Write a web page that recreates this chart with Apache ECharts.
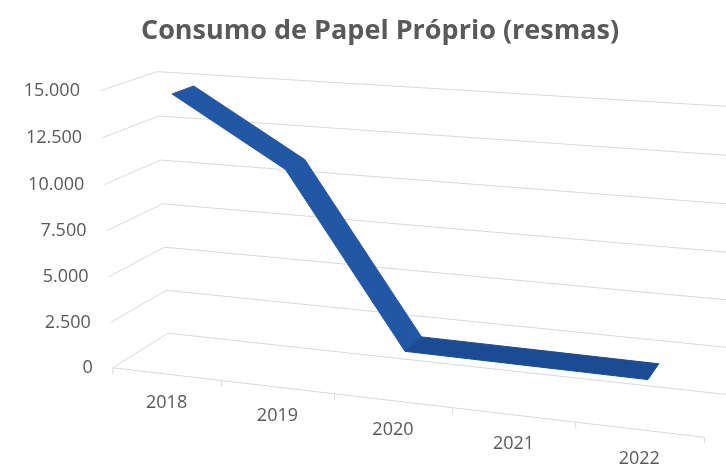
<!DOCTYPE html>
<html>
<head>
<meta charset="utf-8">
<script src="https://cdn.jsdelivr.net/npm/echarts@6/dist/echarts.min.js"></script>
<style>
  html, body { margin: 0; padding: 0; background: #fff; }
  #chart { width: 726px; height: 464px; }
</style>
</head>
<body>
<div id="chart"></div>
<script>
// dados
var categories = ['2018', '2019', '2020', '2021', '2022'];
var consumo = [14700, 11100, 2000, 1950, 1900];
var yTicks = [0, 2500, 5000, 7500, 10000, 12500, 15000];
var titulo = 'Consumo de Papel Próprio (resmas)';

// caixa 3D: X = bandas de categoria (0..5), Y = valor/2500 (0..6), Z = profundidade (0 frente, 1 fundo)
// cantos da caixa no ecrã -> camara em perspectiva (DLT)
var refPts = [
  [0, 0, 0, 113, 368], [0, 6, 0, 100, 91], [0, 0, 1, 168, 333], [0, 6, 1, 157, 71],
  [1, 0, 0, 221, 380], [2, 0, 0, 335, 393], [3, 0, 0, 453, 408], [4, 0, 0, 575, 422],
  [5, 0, 0, 705, 437], [0, 3, 0, 106, 232], [0, 3, 1, 163, 204],
  [5, 0, 1, 728, 396], [5, 6, 1, 729, 107], [5, 3, 1, 728, 251]
];
var Z1 = 0.3, Z2 = 0.7;   // profundidade da fita
var cinza = '#595959', linha = '#d9d9d9';
var fonte = 'Open Sans';

function solveCamera(pts) {
  var n = 11, M = [], r = [], i, j, k, c;
  for (i = 0; i < n; i++) { M.push(new Array(n).fill(0)); r.push(0); }
  pts.forEach(function (p) {
    var X = p[0], Y = p[1], Z = p[2], x = (p[3] - 360) / 300, y = (p[4] - 250) / 300;
    var rows = [[X, Y, Z, 1, 0, 0, 0, 0, -x * X, -x * Y, -x * Z, x],
                [0, 0, 0, 0, X, Y, Z, 1, -y * X, -y * Y, -y * Z, y]];
    rows.forEach(function (a) {
      for (i = 0; i < n; i++) {
        for (j = 0; j < n; j++) M[i][j] += a[i] * a[j];
        r[i] += a[i] * a[n];
      }
    });
  });
  for (c = 0; c < n; c++) {
    var piv = c;
    for (k = c + 1; k < n; k++) if (Math.abs(M[k][c]) > Math.abs(M[piv][c])) piv = k;
    var t = M[c]; M[c] = M[piv]; M[piv] = t;
    t = r[c]; r[c] = r[piv]; r[piv] = t;
    for (k = c + 1; k < n; k++) {
      var f = M[k][c] / M[c][c];
      for (j = c; j < n; j++) M[k][j] -= f * M[c][j];
      r[k] -= f * r[c];
    }
  }
  var m = new Array(n);
  for (c = n - 1; c >= 0; c--) {
    var s = r[c];
    for (j = c + 1; j < n; j++) s -= M[c][j] * m[j];
    m[c] = s / M[c][c];
  }
  return m;
}
var cam = solveCamera(refPts);

function proj(X, Y, Z) {
  var w = cam[8] * X + cam[9] * Y + cam[10] * Z + 1;
  return [(cam[0] * X + cam[1] * Y + cam[2] * Z + cam[3]) / w * 300 + 360,
          (cam[4] * X + cam[5] * Y + cam[6] * Z + cam[7]) / w * 300 + 250];
}

// valor de dados -> coordenadas da caixa, pela escala do eixo
function toBox(api, cat, val) {
  var p = api.coord([cat, val]);
  var o = api.coord([0, 0]);
  var bw = api.size([1, 0])[0];
  var bh = api.size([0, 2500])[1];
  return [(p[0] - o[0]) / bw + 0.5, (o[1] - p[1]) / bh];
}

function fmt(v) { return String(v).replace(/\B(?=(\d{3})+(?!\d))/g, '.'); }

function mix(a, b, t) {
  var ca = echarts.color.parse(a), cb = echarts.color.parse(b);
  return 'rgb(' + [0, 1, 2].map(function (i) { return Math.round(ca[i] + (cb[i] - ca[i]) * t); }).join(',') + ')';
}

var nCat = categories.length;

var chart = echarts.init(document.getElementById('chart'));
chart.setOption({
  animation: false,
  title: {
    text: titulo, left: 375, top: 13, textAlign: 'center',
    textStyle: { fontFamily: fonte, fontWeight: 'bold', fontSize: 27, color: cinza }
  },
  grid: { left: 0, top: 0, width: 500, height: 600, show: false },
  xAxis: { type: 'category', data: categories, show: false },
  yAxis: { type: 'value', min: 0, max: 15000, interval: 2500, show: false },
  series: [
    {
      // linhas de grelha (parede lateral + fundo) e rótulos do eixo vertical
      type: 'custom',
      silent: true,
      data: yTicks.map(function (t) { return [0, t]; }),
      renderItem: function (params, api) {
        var b = toBox(api, 0, api.value(1));
        var Y = b[1];
        var a = proj(0, Y, 0), c = proj(0, Y, 1), d = proj(nCat, Y, 1);
        return {
          type: 'group',
          children: [
            { type: 'polyline', shape: { points: [a, c, d] }, style: { stroke: linha, lineWidth: 1, fill: null } },
            { type: 'text', x: a[0] - 20, y: a[1],
              style: { text: fmt(api.value(1)), align: 'right', verticalAlign: 'middle',
                       fill: cinza, fontFamily: fonte, fontSize: 18 } }
          ]
        };
      }
    },
    {
      // eixo das categorias (frente do chão)
      type: 'custom',
      silent: true,
      data: categories.map(function (c, i) { return [i, 0]; }),
      renderItem: function (params, api) {
        var i = api.value(0);
        var X = toBox(api, i, 0)[0];
        var l = proj(X - 0.5, 0, 0), r = proj(X + 0.5, 0, 0), m = proj(X, 0, 0);
        var kids = [
          { type: 'line', shape: { x1: l[0], y1: l[1], x2: r[0], y2: r[1] }, style: { stroke: linha, lineWidth: 1 } },
          { type: 'line', shape: { x1: r[0], y1: r[1], x2: r[0], y2: r[1] + 6 }, style: { stroke: linha, lineWidth: 1 } },
          { type: 'text', x: m[0], y: m[1] + 29,
            style: { text: categories[i], align: 'center', verticalAlign: 'middle',
                     fill: cinza, fontFamily: fonte, fontSize: 18 } }
        ];
        if (i === 0) kids.push({ type: 'line', shape: { x1: l[0], y1: l[1], x2: l[0], y2: l[1] + 6 }, style: { stroke: linha, lineWidth: 1 } });
        return { type: 'group', children: kids };
      }
    },
    {
      // fita 3D da série
      type: 'custom',
      silent: true,
      data: consumo.slice(0, -1).map(function (v, i) { return [i, v, consumo[i + 1]]; }),
      renderItem: function (params, api) {
        var i = api.value(0);
        var p0 = toBox(api, i, api.value(1)), p1 = toBox(api, i + 1, api.value(2));
        var pts = [proj(p0[0], p0[1], Z1), proj(p1[0], p1[1], Z1), proj(p1[0], p1[1], Z2), proj(p0[0], p0[1], Z2)];
        var t = Math.min(1, Math.abs(p1[1] - p0[1]) / 1.5);
        var col = mix('#1b4b93', '#2157a5', t);
        return { type: 'polygon', shape: { points: pts }, style: { fill: col, stroke: col, lineWidth: 1, lineJoin: 'bevel' } };
      }
    }
  ]
});
</script>
</body>
</html>
